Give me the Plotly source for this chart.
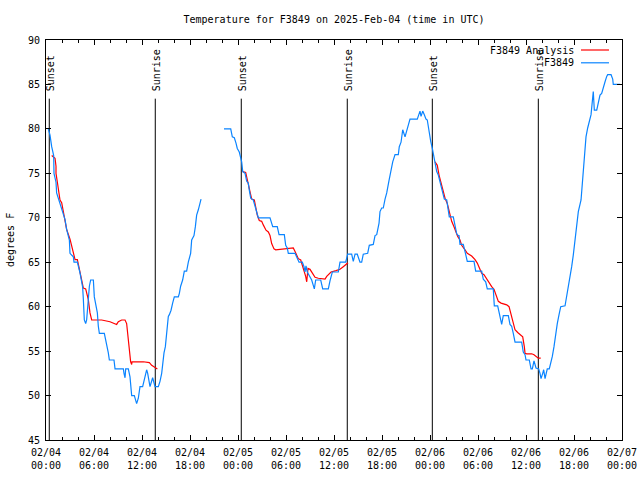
import plotly.graph_objects as go

# ---------------- data (hours since 2025-02-04 00:00 UTC) ----------------
obs_hours_1 = [0.29, 0.5, 0.71, 0.96, 1.0, 1.25, 1.33, 1.63, 1.83, 2.17, 2.38, 2.58, 2.92, 3.0, 3.42, 3.5,
               3.92, 4.25, 4.42, 4.58, 4.67, 4.79, 4.96, 5.08, 5.29, 5.42, 5.58, 5.92, 6.04, 6.25, 6.42,
               6.54, 6.67, 7.29, 7.46, 7.58, 7.79, 7.92, 8.5, 8.63, 9.67, 9.75, 9.88, 9.96, 10.29, 10.5,
               10.58, 10.71, 11.04, 11.33, 11.54, 11.67, 11.75, 12.08, 12.38, 12.58, 12.71, 12.88, 13.0,
               13.33, 13.5, 13.63, 14.04, 14.25, 14.46, 14.58, 14.75, 14.92, 15.08, 15.29, 15.42, 15.63,
               15.83, 16.04, 16.54, 16.67, 16.83, 17.08, 17.29, 17.58, 17.79, 18.08, 18.21, 18.5, 18.67,
               18.83, 19.04, 19.38]
obs_temps_1 = [80.0, 79.3, 78.0, 77.0, 75.0, 74.0, 72.8, 72.0, 71.3, 70.5, 69.8, 68.7, 67.5, 66.0, 65.6, 65.0,
               65.0, 63.8, 62.8, 62.2, 60.8, 58.5, 58.1, 58.5, 60.8, 62.3, 63.0, 63.0, 61.1, 60.2, 59.3,
               57.8, 57.0, 57.0, 56.3, 55.5, 54.8, 54.0, 54.0, 53.0, 53.0, 52.5, 52.0, 53.0, 53.0, 52.1,
               51.0, 50.0, 50.0, 49.1, 49.7, 50.4, 51.0, 51.0, 52.1, 52.9, 52.5, 51.6, 51.0,
               52.0, 51.4, 51.0, 51.0, 51.6, 52.5, 53.6, 54.8, 55.5, 57.0, 58.9, 59.1, 59.6,
               60.4, 61.1, 61.1, 61.5, 62.3, 63.0, 64.0, 64.0, 65.0, 66.0, 67.5, 68.0, 69.0,
               70.3, 70.9, 72.1]

obs_hours_2 = [22.25, 23.09, 23.29, 23.54, 23.75, 23.91, 24.16, 24.34, 24.46, 24.59, 24.88, 25.09, 25.29,
               25.41, 25.59, 25.91, 26.13, 26.34, 26.54, 28.0, 28.34, 28.91, 29.13, 29.79, 29.96, 30.16,
               30.29, 31.13, 31.41, 31.63, 32.04, 32.25, 32.38, 32.5, 32.66, 33.0, 33.21, 33.41, 33.54,
               33.71, 34.34, 34.59, 35.29, 35.5, 35.79, 36.54, 36.75, 37.46, 37.59, 37.71, 38.21, 38.41,
               38.63, 38.91, 39.25, 39.46, 39.66, 40.21, 40.41, 40.91, 41.13, 41.34, 41.63, 41.75, 41.96,
               42.16, 42.38, 42.59, 42.88, 43.09, 43.34, 43.63, 44.04, 44.16, 44.38, 44.59, 44.75, 44.88,
               45.0, 45.16, 45.34, 45.5, 46.41, 46.63, 46.75, 46.88, 47.09, 47.29, 47.5, 47.66, 47.79,
               47.91, 48.09, 48.29, 48.41, 48.63, 48.84, 49.04, 49.25, 49.46, 49.66, 49.79, 50.09, 50.21,
               50.41, 50.91, 51.13, 51.34, 51.54, 51.63, 51.75, 52.16, 52.38, 52.66, 53.5, 53.71, 54.46,
               54.66, 54.96, 55.16, 55.91, 56.04, 56.46, 56.66, 56.88, 56.96, 57.16, 57.79, 58.0, 58.21,
               58.41, 58.63, 59.46, 59.66, 59.88, 60.0, 60.41, 60.63, 60.79, 61.0, 61.25, 61.59, 61.75,
               61.88, 62.09, 62.21, 62.38, 62.66, 62.91, 63.09, 63.29, 63.5, 63.71, 63.91, 64.13, 64.34,
               64.88, 65.09, 65.29, 65.5, 65.71, 65.91, 66.13, 66.34, 66.54, 66.88, 67.09, 67.29, 67.5,
               67.71, 67.91, 68.13, 68.41, 68.54, 68.84, 69.04, 69.25, 69.46, 69.66, 69.88, 70.09, 70.21,
               70.63, 70.84, 70.91, 71.75]
obs_temps_2 = [80.0, 80.0, 79.1, 79.0, 78.4, 77.8, 77.4, 76.9, 76.3, 75.2, 75.0, 74.1, 73.9,
               73.1, 72.2, 72.0, 71.3, 70.5, 70.0, 70.0, 69.0, 69.0, 68.1, 68.1, 66.9, 66.6,
               66.0, 66.0, 65.4, 65.0, 65.0, 64.5, 63.9, 64.6, 63.9, 63.4, 63.0, 62.4, 62.0,
               63.0, 63.0, 62.0, 62.0, 62.9, 63.9, 63.9, 65.0, 65.0, 65.6, 65.9, 65.9, 65.1,
               65.9, 65.9, 65.0, 65.0, 65.9, 66.0, 66.9, 67.0, 68.0, 68.1, 69.4, 70.7, 71.1,
               71.1, 72.1, 72.8, 74.2, 75.3, 76.3, 77.1, 77.1, 78.0, 78.5, 79.9, 79.5, 79.1,
               79.5, 80.0, 80.8, 81.1, 81.1, 81.6, 82.0, 81.4, 82.0, 81.6, 81.1, 81.0, 80.3,
               79.3, 78.6, 77.8, 77.3, 76.3, 75.2, 74.8, 74.1, 73.3, 72.8, 72.1, 72.0, 71.3,
               70.1, 70.1, 69.0, 68.2, 68.0, 68.0, 67.0, 67.0, 66.2, 65.1, 65.1, 64.0, 64.0,
               63.1, 62.8, 62.0, 62.0, 60.1, 60.1, 59.3, 58.5, 58.0, 59.0, 59.0, 58.0, 57.8,
               57.0, 56.0, 56.0, 54.9, 54.6, 54.0, 54.0, 53.0, 53.0, 53.9, 53.1, 53.0, 52.5,
               51.9, 52.5, 52.9, 51.9, 53.0, 53.0, 53.6, 54.4, 55.5, 57.2, 58.1, 59.1, 60.0,
               60.1, 61.1, 62.1, 63.4, 64.5, 65.8, 67.5, 69.4, 70.7, 72.0, 74.3, 76.7, 79.1,
               80.1, 81.0, 81.6, 84.2, 82.1, 82.1, 83.1, 83.8, 84.0, 84.8, 85.3, 85.9, 86.1,
               86.1, 85.6, 85.0, 85.0]

ana_hours_1 = [0.71, 1.13, 1.25, 1.25, 1.42, 1.54, 1.75, 1.96, 2.17, 2.38, 2.58, 3.0, 3.21, 3.42, 3.63,
               3.92, 4.25, 4.46, 4.67, 4.96, 5.08, 5.29, 5.5, 5.71, 6.96, 8.0, 8.83, 9.04, 9.46, 9.88,
               10.08, 10.17, 10.29, 10.42, 10.58, 10.71, 10.75, 12.17, 12.92, 13.21, 13.63, 13.92]
ana_temps_1 = [77.0, 76.7, 75.8, 75.0, 74.0, 73.1, 72.0, 71.7, 70.7, 69.8, 68.7, 67.6, 66.8, 65.8, 65.3,
               65.3, 63.9, 62.8, 62.1, 62.0, 61.5, 60.8, 59.3, 58.5, 58.5, 58.3, 58.0, 58.3, 58.5, 58.5,
               58.1, 57.2, 55.9, 54.8, 53.8, 53.5, 53.8, 53.8, 53.7, 53.4, 53.1, 53.0]

ana_hours_2 = [24.59, 24.96, 25.21, 25.38, 25.59, 25.71, 26.04, 26.21, 26.41, 26.66, 26.96, 27.16, 27.5,
               27.79, 28.0, 28.21, 28.5, 28.71, 29.25, 30.09, 30.91, 31.13, 31.34, 31.54, 31.84, 32.04,
               32.25, 32.46, 32.59, 32.75, 33.0, 33.21, 33.41, 33.63, 34.04, 34.88, 35.09, 35.29, 35.63,
               36.25, 36.75, 37.16, 37.59, 37.75]
ana_temps_2 = [75.2, 75.1, 74.1, 73.3, 72.6, 72.1, 72.0, 71.3, 70.3, 69.7, 69.6, 69.2, 68.6,
               68.4, 68.0, 67.1, 66.5, 66.4, 66.45, 66.6, 66.6, 66.2, 65.8, 65.4, 65.25, 64.7,
               63.9, 63.4, 62.8, 64.3, 64.2, 63.9, 63.6, 63.3, 63.2, 63.1, 63.4, 63.6, 63.9,
               64.05, 64.2, 64.5, 64.9, 64.95]

ana_hours_3 = [48.63, 48.91, 49.13, 49.38, 49.59, 49.88, 50.16, 50.29, 50.5, 50.71, 51.0, 51.25, 51.46,
               51.75, 51.96, 52.38, 52.66, 53.21, 53.63, 53.91, 54.16, 54.46, 54.75, 55.09, 55.41, 55.71,
               56.0, 56.21, 56.54, 56.88, 57.59, 57.88, 58.09, 58.34, 58.54, 58.63, 58.96, 59.34, 59.59,
               59.79, 59.88, 60.09, 60.71, 61.0, 61.25, 61.54, 61.84]
ana_temps_3 = [76.3, 75.9, 74.8, 73.9, 73.1, 72.2, 71.6, 71.05, 70.1, 69.6, 69.0, 68.4, 67.9,
               67.5, 66.9, 66.4, 66.0, 65.7, 65.3, 64.9, 64.3, 63.75, 63.6, 63.1, 62.6, 62.25,
               61.95, 61.5, 60.6, 60.4, 60.2, 60.0, 59.25, 58.3, 57.75, 57.4, 57.1, 56.8, 56.6,
               55.5, 54.75, 54.7, 54.7, 54.6, 54.4, 54.2, 54.2]

event_hours = [0.41, 13.66, 24.41, 37.66, 48.29, 61.54]
event_names = ["Sunset", "Sunrise", "Sunset", "Sunrise", "Sunset", "Sunrise"]

tick_hours = [0, 6, 12, 18, 24, 30, 36, 42, 48, 54, 60, 66, 72]
tick_labels = ["02/04<br>00:00", "02/04<br>06:00", "02/04<br>12:00", "02/04<br>18:00",
               "02/05<br>00:00", "02/05<br>06:00", "02/05<br>12:00", "02/05<br>18:00",
               "02/06<br>00:00", "02/06<br>06:00", "02/06<br>12:00", "02/06<br>18:00",
               "02/07<br>00:00"]

title_text = "Temperature for F3849 on 2025-Feb-04 (time in UTC)"
y_title = "degrees F"
series_names = ["F3849 Analysis", "F3849"]

# ---------------- figure ----------------
FONT = "DejaVu Sans Mono"
RED = "#ff0000"
BLUE = "#0a84ff"
Y_MIN, Y_MAX = 45, 90
LINE_TOP = 83.4
LABEL_BOTTOM = 84.15

fig = go.Figure()

# sunrise / sunset vertical lines
vx, vy = [], []
for h in event_hours:
    vx += [h, h, None]
    vy += [Y_MIN, LINE_TOP, None]
fig.add_trace(go.Scatter(x=vx, y=vy, mode="lines", line=dict(color="black", width=1),
                         hoverinfo="skip", showlegend=False))

# analysis (red)
ax_, ay_ = [], []
for hs, ts in [(ana_hours_1, ana_temps_1), (ana_hours_2, ana_temps_2), (ana_hours_3, ana_temps_3)]:
    ax_ += hs + [None]
    ay_ += ts + [None]
fig.add_trace(go.Scatter(x=ax_, y=ay_, mode="lines", name=series_names[0],
                         line=dict(color=RED, width=1.2), connectgaps=False, showlegend=False))

# observations (blue)
bx, by = obs_hours_1 + [None] + obs_hours_2, obs_temps_1 + [None] + obs_temps_2
fig.add_trace(go.Scatter(x=bx, y=by, mode="lines", name=series_names[1],
                         line=dict(color=BLUE, width=1.2), connectgaps=False, showlegend=False))

annotations = []
for h, name in zip(event_hours, event_names):
    annotations.append(dict(x=h, y=LABEL_BOTTOM, xref="x", yref="y", text=name, textangle=-90,
                            showarrow=False, xanchor="center", yanchor="bottom", xshift=1,
                            font=dict(family=FONT, size=10, color="black"), borderpad=0))

# manual gnuplot-style legend (text left, sample right)
leg_rows = [(series_names[0], RED, 0.975), (series_names[1], BLUE, 0.943)]
shapes = []
for name, col, yy in leg_rows:
    annotations.append(dict(x=0.9184, y=yy, xref="paper", yref="paper", text=name, showarrow=False,
                            xanchor="right", yanchor="middle",
                            font=dict(family=FONT, size=10, color="black"), borderpad=0))
    shapes.append(dict(type="line", xref="paper", yref="paper", x0=0.9288, x1=0.9774, y0=yy, y1=yy,
                       line=dict(color=col, width=1.2)))

annotations.append(dict(x=-0.0625, y=0.5, xref="paper", yref="paper", text=y_title, textangle=-90,
                        showarrow=False, xanchor="center", yanchor="middle",
                        font=dict(family=FONT, size=10, color="black")))

fig.update_layout(
    width=640, height=480,
    margin=dict(l=46, r=18, t=40, b=40, autoexpand=False),
    paper_bgcolor="white", plot_bgcolor="white",
    font=dict(family=FONT, size=10, color="black"),
    title=dict(text=title_text, x=0.5, xref="paper", y=1 - 19 / 480, yref="container",
               xanchor="center", yanchor="middle", font=dict(family=FONT, size=10, color="black")),
    annotations=annotations, shapes=shapes,
    showlegend=False,
)
fig.update_xaxes(range=[0, 72], tickvals=tick_hours, ticktext=tick_labels, showgrid=False,
                 zeroline=False, showline=True, linecolor="black", linewidth=1, mirror="ticks",
                 ticks="inside", ticklen=5, tickcolor="black", tickwidth=1, automargin=False,
                 ticklabelstandoff=3,
                 minor=dict(dtick=2, tick0=0, ticks="inside", ticklen=3, tickcolor="black", showgrid=False),
                 tickfont=dict(family=FONT, size=10, color="black"))
fig.update_yaxes(range=[Y_MIN, Y_MAX], dtick=5, tick0=45, showgrid=False, zeroline=False,
                 showline=True, linecolor="black", linewidth=1, mirror="ticks",
                 ticks="inside", ticklen=5, tickcolor="black", tickwidth=1, automargin=False,
                 ticklabelstandoff=3,
                 tickfont=dict(family=FONT, size=10, color="black"))

fig.write_html("out.html", config={"displayModeBar": False},
               post_script="document.body.style.margin='0';document.body.style.padding='0';")
